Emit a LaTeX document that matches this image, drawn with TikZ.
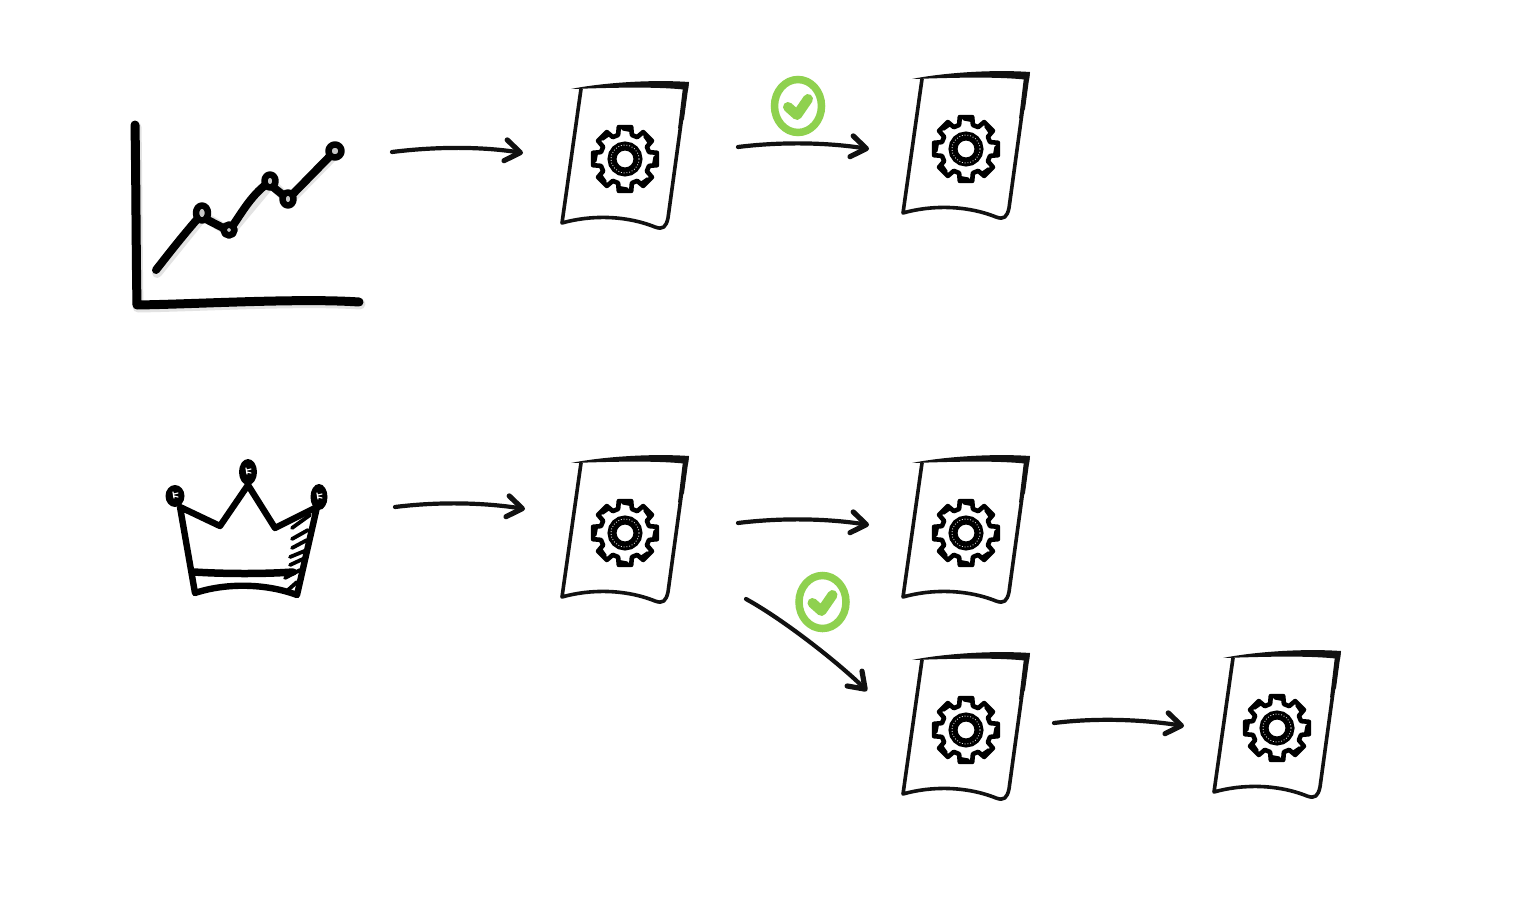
\documentclass[tikz,border=0pt]{standalone}
\usetikzlibrary{arrows.meta,shapes.geometric}
\definecolor{inkblack}{HTML}{111111}
\definecolor{okgreen}{HTML}{8FD14F}
\tikzset{
  sketchline/.style={draw=inkblack,line width=4.2pt,line cap=round,line join=round},
  conn/.style={sketchline,-{Straight Barb[length=15pt,width=21pt,line width=5.2pt,round]}},
  anchorbox/.style={inner sep=0pt,outer sep=0pt,minimum width=128pt,minimum height=148pt},
  chartink/.style={draw=black,line cap=round,line join=round},
  crownink/.style={draw=black,line width=6.4pt,line cap=round,line join=round},
  hatch/.style={draw=black,line width=3.8pt,line cap=round},
  checkring/.style={shape=ellipse,draw=okgreen,line width=7.5pt,fill=white,inner sep=0pt,minimum width=47pt,minimum height=53pt},
  checkmark/.style={draw=okgreen,line width=10pt,line cap=round,line join=round},
  docsketch/.pic={
    \fill[inkblack] (-54,-70) .. controls (-30,-75) and (20,-80) .. (64,-77) -- (63,-69) .. controls (30,-73) and (-20,-71) .. (-54,-70) -- cycle;
    \fill[inkblack] (64,-77) -- (58,-72) -- (53,-30) -- (59,-40) -- cycle;
    \draw[inkblack,line width=3.6pt,line cap=round,line join=round] (-44,-70) -- (-63,64) .. controls (-35,56) and (0,56) .. (30,68) .. controls (38,71) and (41,68) .. (43,59) -- (61,-72);
    \draw[black,line width=4.6pt,line join=round,fill=white]
      (-11:32.5)
      \foreach \a in {0,45,...,315}{
        -- (\a-11:32.5) -- (\a+11:32.5) -- (\a+16:25) -- (\a+29:25)
      } -- cycle;
    \draw[black,line width=9pt] (0,0) circle[radius=13];
    \draw[white,line width=.8pt,dotted] (0,0) circle[radius=14];
    \foreach \a in {10,55,...,325}{
      \draw[black,line width=3pt,line cap=round] (\a-14:30) -- (\a+2:29);
    }
  }
}
\newcommand{\docat}[2]{%
  \node[anchorbox] (#1) at (#2) {};
  \pic at (#1.center) {docsketch};
}
\begin{document}
\begin{tikzpicture}[x=1pt,y=-1pt]
\useasboundingbox (0,0) rectangle (1516,902);
\fill[white] (0,0) rectangle (1516,902);

% chart
\node[inner sep=0pt,minimum width=230pt,minimum height=185pt] (chart) at (247,215) {};
\begin{scope}[shift={(1,2)},opacity=.22]
  \draw[chartink,draw=gray,line width=11pt] (135,125) .. controls (136,180) and (136,250) .. (137,305) .. controls (200,304) and (300,298) .. (359,302);
  \draw[chartink,draw=gray,line width=10pt] (156,271) -- (202,214) -- (229,230) -- (270,181) -- (288,199) -- (335,151);
\end{scope}
\draw[chartink,line width=9pt] (135,125) .. controls (136,180) and (136,250) .. (137,305) .. controls (200,304) and (300,298) .. (359,302);
\draw[chartink,line width=8pt] (156,270) .. controls (170,252) and (185,233) .. (200,216) -- (229,231) .. controls (240,216) and (250,196) .. (268,183) -- (288,199) -- (335,151);
\foreach \nm/\cx/\cy/\rx/\ry in {p1/202/213/6/7.5,p2/229/230/5.5/5.5,p3/270/181/5.5/6.5,p4/288/199/5.5/6.5,p5/335/151/6.5/6.5}{
  \draw[chartink,line width=6.5pt,fill=white!78!black] (\cx,\cy) ellipse[x radius=\rx,y radius=\ry];
}

% crown
\node[inner sep=0pt,minimum width=165pt,minimum height=140pt] (crown) at (247,528) {};
\draw[crownink] (180,507) -- (220,526) -- (248,485) -- (275,528) -- (317,507) -- (297,595) .. controls (265,583) and (225,583) .. (195,593) -- cycle;
\draw[crownink,line width=7.5pt] (194,572) .. controls (225,574) and (265,574) .. (293,572);
\foreach \xa/\ya/\xb/\yb in {292/528/310/515,292/539/308/530,292/548/307/540,290/557/307/550,290/565/305/558,285/578/300/570,288/590/297/582}{
  \draw[hatch] (\xa,\ya) -- (\xb,\yb);
}
\foreach \cx/\cy/\rx/\ry in {175/496/7/8.5,248/472/6.5/10.5,319/497/6/10.5}{
  \fill[black] (\cx,\cy) ellipse[x radius=\rx+2.5,y radius=\ry+2.5];
  \draw[white,line width=1.2pt,line cap=round] (\cx-2,\cy-4) -- (\cx-1,\cy+2) (\cx-1,\cy-2) -- (\cx+3,\cy-3) (\cx-1,\cy) -- (\cx+3,\cy+1);
}

% documents
\docat{d1}{625,159}
\docat{d2}{966,149}
\docat{d3}{625,533}
\docat{d4}{966,533}
\docat{d5}{966,730}
\docat{d6}{1277,728}

% connector ends
\path (chart.center) ++(145,-63) coordinate (a1s);
\path (d1.center) ++(-102,-6) coordinate (a1e);
\path (d1.center) ++(113,-12) coordinate (a2s);
\path (d2.center) ++(-97,0) coordinate (a2e);
\path (crown.center) ++(148,-21) coordinate (a3s);
\path (d3.center) ++(-100,-24) coordinate (a3e);
\path (d3.center) ++(113,-10) coordinate (a4s);
\path (d4.center) ++(-97,-8) coordinate (a4e);
\path (d3.center) ++(121,66) coordinate (a5s);
\path (d5.center) ++(-99,-39) coordinate (a5e);
\path (d5.center) ++(88,-7) coordinate (a6s);
\path (d6.center) ++(-93,-2) coordinate (a6e);

\draw[conn] (a1s) .. controls +(40,-5) and +(-45,-7) .. (a1e);
\draw[conn] (a2s) .. controls +(40,-5) and +(-45,-7) .. (a2e);
\draw[conn] (a3s) .. controls +(40,-5) and +(-45,-7) .. (a3e);
\draw[conn] (a4s) .. controls +(40,-5) and +(-45,-7) .. (a4e);
\draw[conn] (a5s) .. controls +(40,22) and +(-25,-25) .. (a5e);
\draw[conn] (a6s) .. controls +(40,-5) and +(-45,-7) .. (a6e);

% checks
\node[checkring] (c1) at (798,106) {};
\draw[checkmark] (c1.center) ++(-10,1) -- ++(9,8) -- ++(11,-16);
\node[checkring] (c2) at (822.5,602) {};
\draw[checkmark] (c2.center) ++(-10,1) -- ++(9,8) -- ++(11,-16);
\end{tikzpicture}
\end{document}
